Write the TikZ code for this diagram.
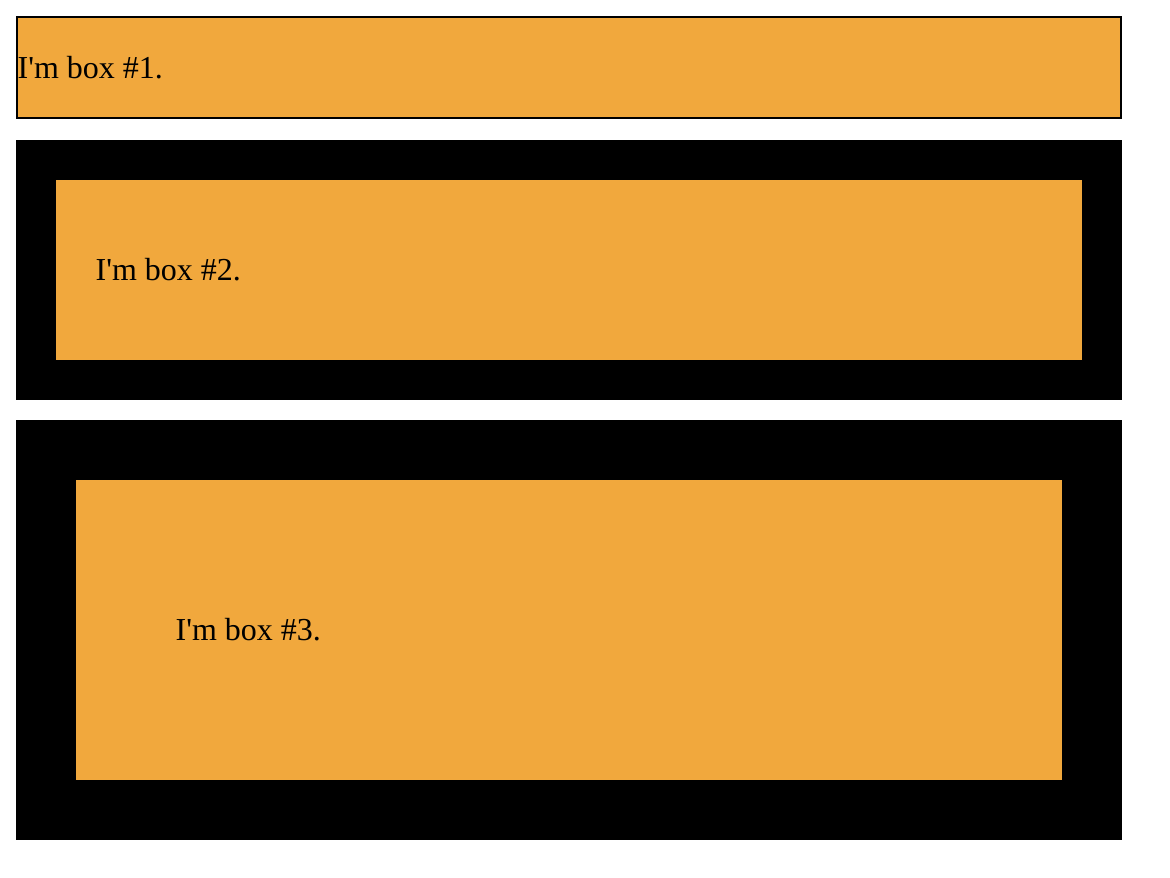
\documentclass[tikz,border=0pt]{standalone}
\usepackage{fontspec}
\newfontfamily\htmlserif{Liberation Serif}[Ligatures=ResetAll]
\definecolor{boxorange}{HTML}{F1A83D}
\tikzset{
  frame/.style={fill=black, draw=none},
  inner/.style={fill=boxorange, draw=none},
  label/.style={anchor=base west, inner sep=0pt, outer sep=0pt, font=\htmlserif\fontsize{32pt}{38pt}\selectfont, text=black}
}
\begin{document}
\begin{tikzpicture}[x=1pt,y=-1pt]
\useasboundingbox (0,0) rectangle (1170,878);
% box 1
\fill[boxorange] (17,17) rectangle (1121,118);
\draw[line width=2pt, black] (17,17) rectangle (1121,118);
\node[label] (t1) at (17.6,78) {I'm box \#1.};
% box 2
\fill[frame] (16,140) rectangle (1122,400);
\fill[inner] (56,180) rectangle (1082,360);
\node[label] (t2) at (95.6,280) {I'm box \#2.};
% box 3
\fill[frame] (16,420) rectangle (1122,840);
\fill[inner] (76,480) rectangle (1062,780);
\node[label] (t3) at (175.6,640) {I'm box \#3.};
\end{tikzpicture}
\end{document}
